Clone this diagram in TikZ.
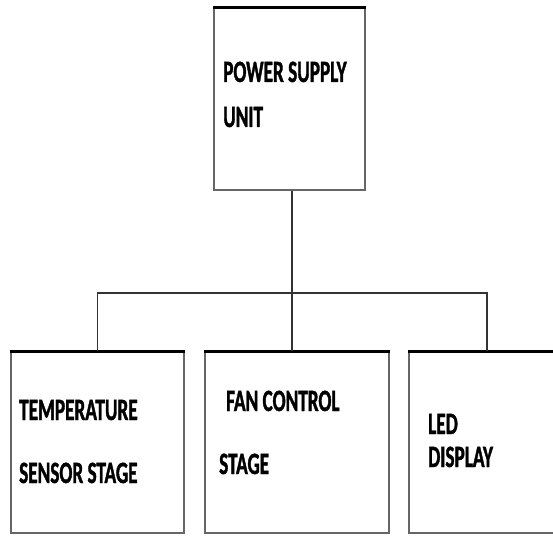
\documentclass[tikz,border=0pt]{standalone}
\usepackage{fontspec}
\newfontfamily\blockfont{Carlito}[FakeStretch=0.62, BoldFeatures={FakeBold=1.2}]
\usetikzlibrary{positioning}
\tikzset{
  unit/.style={draw=black!60, line width=1.6pt, fill=white, inner sep=0pt},
  lid/.style={line width=3pt, black},
  link/.style={line width=1.6pt, black!80},
  tag/.style={anchor=base west, inner sep=0pt, font=\blockfont\bfseries\fontsize{31}{31}\selectfont}
}
\begin{document}
\begin{tikzpicture}[x=1pt,y=1pt]
  \clip (0,0) rectangle (553,535);
  \fill[white] (0,0) rectangle (553,535);
  % blocks
  \node[unit, minimum width=151pt, minimum height=182pt] (psu) at (289.5,436) {};
  \node[unit, minimum width=173pt, minimum height=181pt] (temp) at (97.5,92.5) {};
  \node[unit, minimum width=184pt, minimum height=181pt] (fan) at (297,92.5) {};
  \node[unit, minimum width=156pt, minimum height=181pt] (led) at (487,92.5) {};
  \foreach \b in {psu,temp,fan,led}
    \draw[lid] (\b.north west) -- (\b.north east);
  % wiring
  \coordinate (bus) at (292,242);
  \draw[link] (psu.south -| bus) -- (bus);
  \draw[link] (temp.north) |- (bus) -| (led.north);
  \draw[link] (bus) -- (bus |- fan.north);
  % texts
  \node[tag] (psuA) at (223,453) {POWER SUPPLY};
  \node[tag] (psuB) at (223,408) {UNIT};
  \node[tag] (tempA) at (19,115) {TEMPERATURE};
  \node[tag] (tempB) at (19,52) {SENSOR STAGE};
  \node[tag] (fanA) at (226,124) {FAN CONTROL};
  \node[tag] (fanB) at (219,61) {STAGE};
  \node[tag] (ledA) at (428,101) {LED};
  \node[tag] (ledB) at (428,68) {DISPLAY};
\end{tikzpicture}
\end{document}
